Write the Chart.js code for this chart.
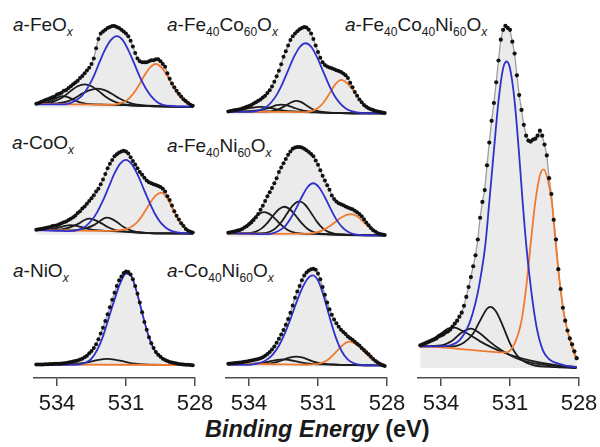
<!DOCTYPE html>
<html>
<head>
<meta charset="utf-8">
<script src="https://cdn.jsdelivr.net/npm/chart.js@4.4.1/dist/chart.umd.min.js"></script>
<style>
  body { margin: 0; background: #fff; }
  #fig { position: relative; width: 600px; height: 447px; overflow: hidden; font-family: "Liberation Sans", Arial, sans-serif; color: #1a1a1a; }
  #fig canvas { position: absolute; }
  .lbl { position: absolute; font-size: 19px; line-height: 1; white-space: nowrap; }
  .lbl .s { font-size: 12px; position: relative; top: 5px; }
  #xt { position: absolute; left: 205px; top: 418px; font-size: 23.5px; line-height: 1; font-weight: bold; white-space: nowrap; }
</style>
</head>
<body>
<div id="fig">
  <div class="lbl" style="left:13px;top:15px"><i>a</i>-FeO<span class="s"><i>x</i></span></div>
  <div class="lbl" style="left:167px;top:15px"><i>a</i>-Fe<span class="s">40</span>Co<span class="s">60</span>O<span class="s"><i>x</i></span></div>
  <div class="lbl" style="left:345px;top:15px"><i>a</i>-Fe<span class="s">40</span>Co<span class="s">40</span>Ni<span class="s">60</span>O<span class="s"><i>x</i></span></div>
  <div class="lbl" style="left:12px;top:133px"><i>a</i>-CoO<span class="s"><i>x</i></span></div>
  <div class="lbl" style="left:167px;top:136px"><i>a</i>-Fe<span class="s">40</span>Ni<span class="s">60</span>O<span class="s"><i>x</i></span></div>
  <div class="lbl" style="left:13px;top:261px"><i>a</i>-NiO<span class="s"><i>x</i></span></div>
  <div class="lbl" style="left:167px;top:261px"><i>a</i>-Co<span class="s">40</span>Ni<span class="s">60</span>O<span class="s"><i>x</i></span></div>
  <div id="xt"><i>Binding Energy</i> (eV)</div>
</div>
<script>
// binding energy of the measured points (eV), 534.9 down to 528.1
const energy = [
  534.9, 534.8, 534.7, 534.6, 534.5, 534.4, 534.3, 534.2, 534.1, 534.0,
  533.9, 533.8, 533.7, 533.6, 533.5, 533.4, 533.3, 533.2, 533.1, 533.0,
  532.9, 532.8, 532.7, 532.6, 532.5, 532.4, 532.3, 532.2, 532.1, 532.0,
  531.9, 531.8, 531.7, 531.6, 531.5, 531.4, 531.3, 531.2, 531.1, 531.0,
  530.9, 530.8, 530.7, 530.6, 530.5, 530.4, 530.3, 530.2, 530.1, 530.0,
  529.9, 529.8, 529.7, 529.6, 529.5, 529.4, 529.3, 529.2, 529.1, 529.0,
  528.9, 528.8, 528.7, 528.6, 528.5, 528.4, 528.3, 528.2, 528.1
];
const tickValues = [534, 531, 528];

// measured intensity (arb. units), one value per energy
const feoDots = [
  4, 5, 6, 7, 8, 9, 10, 11, 12, 14,
  15, 16, 18, 19, 21, 23, 25, 27, 29, 32,
  34, 37, 40, 43, 47, 53, 64, 74, 80, 82,
  84, 86, 87, 88, 88, 87, 86, 84, 82, 80,
  77, 72, 66, 59, 53, 50, 49, 49, 49, 50,
  51, 51, 52, 52, 50, 47, 44, 37, 31, 26,
  22, 18, 15, 12, 9, 7, 5, 3, 2
];
const cooDots = [
  5, 5.5, 6, 6.5, 7, 7.5, 8, 9, 9.5, 10,
  11, 12, 13, 14, 15.5, 17, 18.5, 20.5, 23, 25,
  28, 30, 33, 36, 39, 42, 46, 49, 54, 59,
  65, 71, 76, 80, 84, 86, 88, 89, 90, 89,
  87, 83, 79, 75, 71, 67, 64, 61, 58, 56,
  55, 54, 53, 52, 51, 49, 46, 41, 37, 31,
  25, 20, 16, 12, 9, 6, 4, 3, 2
];
const nioDots = [
  1, 1, 1, 1, 1.2, 1.3, 1.4, 1.5, 1.6, 1.7,
  1.8, 2, 2.2, 2.5, 3, 3.5, 4, 4.5, 5, 6,
  7, 8.5, 10, 12.5, 15, 18, 22, 27, 33, 39,
  46, 53, 60, 68, 75, 82, 88, 92, 95.5, 97,
  96.5, 94, 89, 82, 74, 65, 55, 45, 37, 29,
  23, 18, 14, 11, 9, 7, 5.5, 4.5, 3.5, 3,
  2.5, 2, 1.5, 1.2, 1, 0.8, 0.6, 0.4, 0.3
];
const fecoDots = [
  3, 3.5, 4, 4.5, 5, 5.5, 6.3, 7, 8, 9,
  10, 11.5, 13, 14.5, 16, 18, 20, 23, 26, 30,
  35, 41, 47, 54, 62, 68, 74, 80, 84, 87,
  89.5, 91.5, 93, 94, 93.5, 91, 87, 81, 74, 67,
  61, 56, 53, 51.5, 50.5, 49.5, 48.5, 47.5, 46.5, 45.5,
  44, 42, 39, 34, 29, 24, 20, 16, 13, 10,
  8, 6.5, 5.5, 4.5, 3.5, 3, 2.5, 2, 1.5
];
const feniDots = [
  4, 4.5, 5, 5.5, 6.3, 7, 8, 9.5, 11, 13,
  15, 17.5, 20.5, 24, 28.5, 33, 38, 43, 47.5, 52,
  57, 62.5, 69, 74, 78.5, 83, 87.5, 91, 94, 95.5,
  96, 96, 95.5, 94, 92.5, 90.5, 88.5, 86, 81.5, 77,
  71, 65, 60, 55, 50, 44, 40, 37.5, 35.5, 34.5,
  33.5, 32, 31, 30, 29, 27.5, 26, 24, 21.5, 18.5,
  15, 12, 9, 6.7, 5, 3.5, 2.5, 2, 1.5
];
const coniDots = [
  2.7, 3, 3.2, 3.5, 3.8, 4, 4.3, 4.7, 5.1, 5.5,
  6, 6.5, 7, 7.6, 8.5, 9.5, 11, 12.7, 14.8, 17.5,
  20.5, 24.5, 28.5, 33, 37.5, 43, 49, 55.5, 63, 71,
  77.5, 83, 89, 94, 97, 99, 100.5, 101, 100, 96,
  90, 82, 74, 66, 59, 53.5, 48.5, 44.5, 41, 38,
  35.5, 33.5, 31, 29, 27.5, 25.5, 23.5, 21.5, 19, 17,
  14.5, 12.5, 10, 7.7, 5.5, 4, 2.5, 1.2, 0.5
];
const feconiDots = [
  23, 24, 25, 26, 27, 28, 29, 30, 32, 33,
  34, 36, 37, 39, 42, 45, 48, 52, 56, 63,
  72, 82, 92, 103, 114, 130, 152, 168, 180, 205,
  228, 250, 268, 289, 311, 332, 342, 346, 344, 342,
  330, 318, 296, 276, 261, 246, 235, 230, 229, 231,
  232, 235, 240, 235, 226, 215, 192, 176, 150, 130,
  100, 80, 61, 48, 38, 30, 24, 17, 10
];

// fitted components as [energy, intensity] pairs
const feoBlue = [[534.9,3.5],[534,3.5],[533.65,3.5],[533.4,5],[533.15,8],[532.9,13],[532.65,22],[532.4,34],[532.15,49],[531.9,63],[531.65,73],[531.4,77],[531.15,73],[530.9,62],[530.65,48],[530.4,33],[530.15,21],[529.9,12],[529.65,6],[529.4,3],[528.9,1.5],[528.1,1]];
const feoOrange = [[534.9,4],[533.5,3.5],[532,3],[531.45,3.4],[531.2,5],[530.95,8],[530.7,14.5],[530.45,23.5],[530.2,34.5],[529.95,43.4],[529.7,47],[529.45,43],[529.2,34],[528.95,22.6],[528.7,13],[528.45,6.5],[528.2,3],[528.1,2.5]];
const feoBlack1 = [[534.9,3.7],[534.5,5],[534.2,8],[534,10.5],[533.76,12.3],[533.5,11],[533.3,8.5],[533,5.5],[532.7,4],[532.2,3.3],[531,2.5],[530,1.5],[528.1,0.5]];
const feoBlack2 = [[534.9,3.7],[534.3,5],[534,8],[533.7,12],[533.4,18],[533.1,23],[532.81,25],[532.5,23],[532.2,18],[531.9,12],[531.6,7.5],[531.3,4.5],[531,3],[530,1.5],[528.1,0.5]];
const feoBlack3 = [[534.9,3.7],[534,4.5],[533.5,7],[533.2,10.5],[532.9,15],[532.6,18.5],[532.23,20.3],[531.9,18.5],[531.6,14.5],[531.3,10],[531,6.5],[530.7,4],[530.3,2.5],[529.5,1.5],[528.1,0.5]];

const cooBlue = [[534.9,4.5],[534,4],[533.5,3.5],[533,5.5],[532.75,9],[532.5,15],[532.25,24],[532,36.5],[531.75,51],[531.5,65.5],[531.25,76],[531,80],[530.75,75.5],[530.5,64.5],[530.25,50],[530,35.5],[529.75,22.5],[529.5,13],[529.25,7],[529,3.5],[528.5,1.5],[528.1,1]];
const cooOrange = [[534.9,4.7],[533.5,4.3],[532,3.8],[531.46,4.2],[531.2,4.8],[530.96,6],[530.71,9],[530.46,14.7],[530.21,23.5],[529.96,33.5],[529.71,41.7],[529.46,45],[529.21,39],[528.96,27],[528.71,15.5],[528.46,8],[528.21,3.5],[528.1,2.5]];
const cooBlackA = [[534.9,4.7],[534,5],[533.6,6.5],[533.3,9],[533,12.5],[532.8,15.5],[532.6,17],[532.4,16],[532.1,12.5],[531.8,8],[531.5,5],[531.2,3.5],[530.8,2.5],[530,1.5],[528.1,1]];
const cooBlackB = [[534.9,4.7],[533.5,4.5],[533,5.2],[532.7,7],[532.4,10],[532.1,15],[531.86,18],[531.6,16.5],[531.35,12.5],[531.1,8],[530.8,4.5],[530.5,2.5],[530,1.5],[528.1,1]];
const cooBlackC = [[534.9,4.7],[534.3,5.5],[534,7],[533.7,9],[533.4,10],[533.1,9],[532.8,7],[532.5,5.3],[532,4.2],[531,3],[530,1.5],[528.1,1]];

const nioBlue = [[534.9,0.5],[533.5,0.5],[533,1],[532.75,3],[532.5,7],[532.25,16],[532,30],[531.75,49],[531.5,68],[531.25,85],[531,95],[530.75,91.5],[530.5,73],[530.25,50],[530,29],[529.75,15.5],[529.5,8.5],[529.25,5],[529,3],[528.5,1],[528.1,0.3]];
const nioOrange = [[534.9,1],[531,0.7],[528.1,0.3]];
const nioBlack = [[534.9,1],[533.5,1.3],[533,2],[532.6,3.5],[532.3,5.2],[532,6.5],[531.8,6.7],[531.5,6],[531.2,4.6],[530.9,3],[530.6,1.8],[530.2,1],[529,0.5],[528.1,0.3]];

const fecoBlue = [[534.9,2.5],[534,2.5],[533.54,4.5],[533.29,7.2],[533.04,12.7],[532.79,21.2],[532.54,33.3],[532.29,47.8],[532.04,62],[531.79,72.5],[531.54,76.5],[531.29,72.5],[531.04,61.5],[530.79,47],[530.54,32.5],[530.29,20.3],[530.04,11.7],[529.79,6.2],[529.54,3.3],[529.04,1.3],[528.5,1],[528.1,1]];
const fecoOrange = [[534.9,3],[533,2.6],[531.5,2.4],[531.25,3.7],[531,6.7],[530.75,12.9],[530.5,22.4],[530.25,32.2],[529.98,37],[529.75,34],[529.5,27],[529.25,18],[529,10.4],[528.75,5.3],[528.5,2.8],[528.1,1.3]];
const fecoBlackA = [[534.9,3],[534,3.5],[533.6,4.2],[533.3,5.8],[533,8],[532.8,9.8],[532.6,10.5],[532.4,9.8],[532.1,7.5],[531.8,5],[531.5,3.3],[531,2],[530,1.3],[528.1,1]];
const fecoBlackB = [[534.9,3],[533.5,3],[533,3.5],[532.7,5.5],[532.4,9.5],[532.15,13],[531.95,14.5],[531.75,13.3],[531.5,9.5],[531.2,5.2],[530.9,2.8],[530.5,1.7],[530,1.3],[528.1,1]];
const fecoBlackC = [[534.9,3.2],[534.5,4],[534.2,5.5],[533.9,7],[533.5,8],[533.1,7],[532.8,5.3],[532.5,4],[532,3],[531,2],[530,1.3],[528.1,1]];

const feniBlue = [[534.9,3.5],[534,3],[533.2,2.5],[532.95,3.5],[532.7,6],[532.45,10.5],[532.2,19],[531.95,30],[531.7,42.5],[531.45,53],[531.2,57],[530.95,52.5],[530.7,42],[530.45,29.5],[530.2,18],[529.95,10],[529.7,5],[529.45,2.5],[529,1.2],[528.1,1]];
const feniOrange = [[534.9,3.3],[533,2.8],[531.5,2.9],[531.25,3.5],[531,4.9],[530.75,7.3],[530.5,10.9],[530.25,15.4],[530,19.9],[529.75,23],[529.55,24],[529.3,21.6],[529.05,16.3],[528.8,10.3],[528.55,5.7],[528.3,3.1],[528.1,1.7]];
const feniBlackA = [[534.9,3.3],[534.6,4.7],[534.35,7.3],[534.1,11.9],[533.85,18],[533.6,23.6],[533.34,26],[533.1,23.9],[532.85,18.5],[532.6,12.3],[532.35,7.5],[532.1,4.7],[531.8,3.3],[531,2.5],[530,1.8],[528.1,1]];
const feniBlackB = [[534.9,3.3],[534,3.5],[533.7,5.2],[533.45,8.6],[533.2,14.6],[532.95,22.4],[532.7,29.2],[532.46,31.8],[532.2,28.6],[531.95,21.6],[531.7,13.9],[531.45,8],[531.2,4.7],[530.9,3.1],[530.5,2.3],[530,1.8],[528.1,1]];
const feniBlackC = [[534.9,3.3],[534,3.1],[533.4,3.4],[533.1,5],[532.85,8.6],[532.6,15.2],[532.35,24.3],[532.1,33.1],[531.81,37.5],[531.55,33.7],[531.3,25.2],[531.05,15.9],[530.8,8.8],[530.55,4.8],[530.25,2.8],[529.8,2],[529,1.5],[528.1,1]];

const coniBlue = [[534.9,1.5],[534,1.5],[533.8,2.2],[533.47,4],[533.22,7],[532.97,12.2],[532.72,20.6],[532.47,32.5],[532.22,47.5],[531.97,64],[531.72,79],[531.47,90.1],[531.22,94],[530.97,87.4],[530.72,70],[530.47,48.8],[530.22,29.5],[529.97,15.6],[529.72,7.5],[529.47,3.5],[529.22,1.8],[528.97,1.2],[528.5,1],[528.1,0.8]];
const coniOrange = [[534.9,2.7],[533,2.2],[531.5,1.7],[531,2.5],[530.75,4.4],[530.5,8.2],[530.25,14],[530,20.4],[529.8,24.3],[529.62,25.5],[529.4,23.8],[529.15,19],[528.9,12.9],[528.65,7.6],[528.4,4],[528.1,1.9]];
const coniBlackA = [[534.9,2.7],[533.5,2.3],[533,3.4],[532.7,5.1],[532.45,7.4],[532.2,9.3],[531.95,10],[531.7,9.2],[531.45,7.2],[531.2,4.9],[530.95,3.3],[530.7,2.5],[530.2,1.8],[529,1.2],[528.1,1]];
const coniBlackB = [[534.9,2.7],[534,2.7],[533.6,3.1],[533.3,4.2],[533,5.7],[532.75,6.8],[532.5,7.2],[532.25,6.6],[532,5.5],[531.75,4.1],[531.5,3.1],[531.2,2.4],[530.8,2],[530,1.6],[529,1.2],[528.1,1]];

const feconiBlue = [[534.9,22],[534,22],[533.6,23],[533.2,28],[532.77,45],[532.5,66],[532.33,85],[532.07,125],[531.9,168],[531.7,220],[531.5,270],[531.3,303],[531.15,310],[531,303],[530.8,270],[530.6,215],[530.45,168],[530.28,121],[530.06,75],[529.84,41],[529.57,18],[529.3,9],[528.96,5],[528.5,2],[528.1,1]];
const feconiOrange = [[534.9,22],[534,21],[533,19],[532,17],[531.5,16],[531.15,16],[530.8,25],[530.5,48],[530.28,85],[530.06,135],[529.9,168],[529.7,195],[529.53,201],[529.35,190],[529.18,168],[529.05,135],[528.83,85],[528.6,48],[528.3,21],[528.1,8]];
const feconiBlackA = [[534.9,22],[533.5,22],[533,26],[532.6,35],[532.3,48],[532,60],[531.85,62],[531.6,57],[531.3,42],[531,25],[530.7,13],[530.4,7],[530,3],[529,1],[528.1,0]];
const feconiBlackB = [[534.9,22],[534,23],[533.5,28],[533.1,36],[532.7,40],[532.3,35],[531.9,27],[531.5,20],[531,13],[530.5,8],[530,5],[529,2],[528.1,1]];
const feconiBlackC = [[534.9,22],[534.5,27],[534,35],[533.7,40],[533.4,41],[533.1,38],[532.7,33],[532.3,27],[531.8,21],[531.3,16],[530.8,12],[530,7],[529,3],[528.1,1]];

// panel placement on the page (pixels): x of 535 eV, canvas top, y of zero, bottom of plot area
const panels = [
  { dots: feoDots, blue: feoBlue, orange: feoOrange, blacks: [feoBlack1, feoBlack2, feoBlack3], left: 34, top: 10, zero: 111, bottom: 118, axis: false },
  { dots: cooDots, blue: cooBlue, orange: cooOrange, blacks: [cooBlackA, cooBlackB, cooBlackC], left: 34, top: 128, zero: 238, bottom: 245, axis: false },
  { dots: nioDots, blue: nioBlue, orange: nioOrange, blacks: [nioBlack], left: 34, top: 255, zero: 365, bottom: 378, axis: true },
  { dots: fecoDots, blue: fecoBlue, orange: fecoOrange, blacks: [fecoBlackA, fecoBlackB, fecoBlackC], left: 226, top: 10, zero: 118, bottom: 122, axis: false },
  { dots: feniDots, blue: feniBlue, orange: feniOrange, blacks: [feniBlackA, feniBlackB, feniBlackC], left: 226, top: 128, zero: 240, bottom: 246, axis: false },
  { dots: coniDots, blue: coniBlue, orange: coniOrange, blacks: [coniBlackA, coniBlackB], left: 226, top: 255, zero: 366, bottom: 378, axis: true },
  { dots: feconiDots, blue: feconiBlue, orange: feconiOrange, blacks: [feconiBlackA, feconiBlackB, feconiBlackC], left: 418, top: 10, zero: 368, bottom: 378, axis: true, big: true }
];

const PAD = 25, AXIS_H = 50, PLOT_W = 161;
const toXY = pairs => pairs.map(p => ({ x: p[0], y: p[1] }));
const dotXY = vals => energy.map((e, i) => ({ x: e, y: vals[i] }));

function curve(pairs, color) {
  return {
    data: toXY(pairs), showLine: true, borderColor: color, borderWidth: 1.8,
    pointRadius: 0, cubicInterpolationMode: 'monotone', fill: false
  };
}

const fig = document.getElementById('fig');

panels.forEach(p => {
  const cv = document.createElement('canvas');
  const h = p.bottom - p.top + (p.axis ? AXIS_H : 0);
  cv.width = PLOT_W + 2 * PAD;
  cv.height = h;
  cv.style.left = (p.left - PAD) + 'px';
  cv.style.top = p.top + 'px';
  fig.appendChild(cv);

  const datasets = [];
  // data points on top
  datasets.push({
    data: dotXY(p.dots), showLine: false, pointRadius: p.big ? 2.1 : 2,
    pointBackgroundColor: '#111', pointBorderWidth: 0
  });
  datasets.push(curve(p.blue, '#3030cc'));
  datasets.push(curve(p.orange, '#ee7b30'));
  p.blacks.forEach(b => datasets.push(curve(b, '#1c1c1c')));
  // grey envelope with shaded area
  datasets.push({
    data: dotXY(p.dots), showLine: true, borderColor: '#9e9e9e', borderWidth: 1.3,
    pointRadius: 0, fill: 'origin', backgroundColor: '#ebebeb', tension: 0
  });

  const xScale = {
    type: 'linear', min: 528, max: 535, reverse: true,
    display: p.axis, position: 'bottom',
    afterBuildTicks: s => { s.ticks = tickValues.map(v => ({ value: v })); },
    grid: { drawOnChartArea: false, tickLength: 8, color: '#4d4d4d', lineWidth: 1.5 },
    border: { color: '#4d4d4d', width: 1.5 },
    ticks: {
      color: '#1a1a1a', padding: 5, maxRotation: 0, autoSkip: false,
      font: { size: 22, family: 'Liberation Sans' }
    }
  };
  if (p.axis) xScale.afterFit = s => { s.height = AXIS_H; };

  new Chart(cv.getContext('2d'), {
    type: 'scatter',
    data: { datasets },
    options: {
      responsive: false,
      animation: false,
      devicePixelRatio: 1,
      layout: { padding: { left: PAD, right: PAD, top: 0, bottom: 0 } },
      plugins: { legend: { display: false }, tooltip: { enabled: false } },
      scales: {
        x: xScale,
        y: { display: false, min: -(p.bottom - p.zero), max: p.zero - p.top }
      }
    }
  });
});
</script>
</body>
</html>
